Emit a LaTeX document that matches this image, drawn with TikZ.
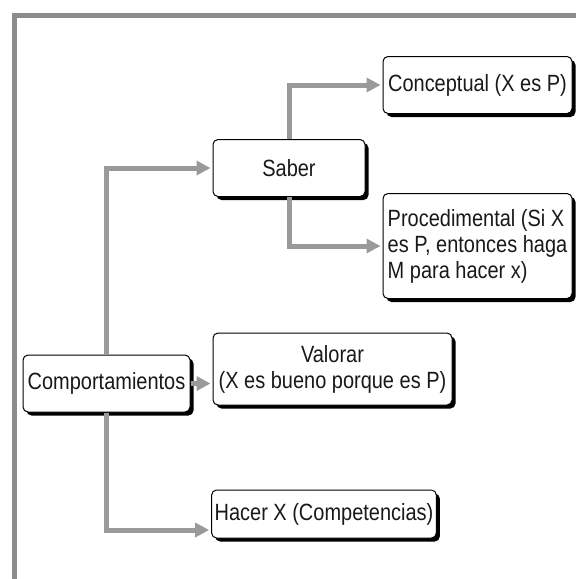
\documentclass[tikz,border=0pt]{standalone}
\usepackage{fontspec}
\setmainfont{Liberation Sans}[FakeStretch=0.85]
\usetikzlibrary{arrows.meta,shadows}
\definecolor{framegray}{HTML}{8C8C8E}
\definecolor{arrowgray}{HTML}{9A9A9C}
\begin{document}
\begin{tikzpicture}[x=1pt,y=-1pt,
  box/.style={draw, fill=white, rounded corners=5pt, line width=1pt,
    drop shadow={shadow xshift=3.5pt, shadow yshift=-3.5pt, fill=black, opacity=1},
    font=\fontsize{23.5}{26}\selectfont, text=black!90, align=center, inner sep=3pt},
  arr/.style={draw=arrowgray, line width=5pt, shorten >=2pt,
    -{Triangle[length=14pt,width=14pt]}}]
\useasboundingbox (0,0) rectangle (576,579);
\draw[framegray, line width=5pt, line join=miter] (14.2,579) -- (14.2,15.8) -- (576,15.8);
\node[box, minimum width=167pt, minimum height=57pt] (comp) at (106.5,383.5) {Comportamientos};
\node[box, minimum width=152pt, minimum height=57pt] (saber) at (289,168) {Saber};
\node[box, minimum width=189pt, minimum height=57pt] (concept) at (477.5,85) {Conceptual (X es P)};
\node[box, minimum width=189pt, minimum height=105pt, align=left] (proc) at (477.5,246) {Procedimental (Si X\\es P, entonces haga\\M para hacer x)};
\node[box, minimum width=239pt, minimum height=72pt] (valorar) at (332.5,369) {Valorar\\(X es bueno porque es P)};
\node[box, minimum width=222pt, minimum height=48pt] (hacer) at (324,514) {Hacer X (Competencias)};
\draw[arr] (comp.north) |- (saber.west);
\draw[arr] (comp.east) -- (comp.east -| valorar.west);
\draw[arr] (comp.south) |- ([yshift=-16pt]hacer.west);
\draw[arr] (saber.north) |- (concept.west);
\draw[arr] (saber.south) |- (proc.west);
\end{tikzpicture}
\end{document}
